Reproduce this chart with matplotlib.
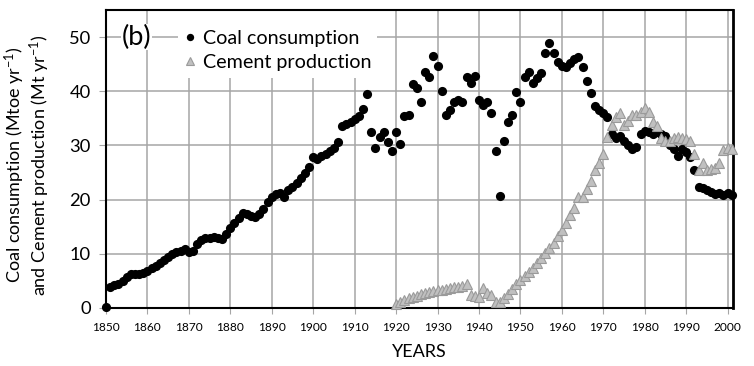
import matplotlib
matplotlib.use("Agg")
import matplotlib.pyplot as plt
from matplotlib.patches import Rectangle

plt.rcParams['font.family'] = ['Lato', 'DejaVu Sans']
plt.rcParams['mathtext.fontset'] = 'custom'
plt.rcParams['mathtext.rm'] = 'Lato'
plt.rcParams['mathtext.it'] = 'Lato'

coal_years = list(range(1850, 2002))
coal = [
    0.2, 3.9, 4.2, 4.5, 5.0, 5.8, 6.2, 6.3, 6.3, 6.4,          # 1850-1859
    6.8, 7.3, 7.8, 8.3, 8.8, 9.4, 9.9, 10.3, 10.5, 10.9,       # 1860-1869
    10.4, 10.5, 11.8, 12.5, 12.9, 13.0, 13.1, 12.9, 12.8, 13.6,  # 1870-1879
    14.8, 15.7, 16.6, 17.6, 17.4, 17.0, 16.8, 17.3, 18.3, 19.5,  # 1880-1889
    20.5, 21.0, 21.2, 20.5, 21.8, 22.3, 23.0, 24.0, 25.0, 26.0,  # 1890-1899
    27.8, 27.5, 28.0, 28.5, 29.0, 29.5, 30.6, 33.5, 34.0, 34.3,  # 1900-1909
    34.8, 35.5, 36.7, 39.5, 32.4, 29.6, 31.5, 32.4, 30.6, 28.9,  # 1910-1919
    32.4, 30.2, 35.4, 35.7, 41.3, 40.6, 38.1, 43.5, 42.6, 46.5,  # 1920-1929
    44.6, 40.0, 35.7, 36.5, 38.0, 38.3, 38.0, 42.6, 41.5, 42.8,  # 1930-1939
    38.3, 37.4, 38.0, 35.9, 28.9, 20.7, 30.9, 34.3, 35.6, 39.8,  # 1940-1949
    38.1, 42.6, 43.5, 41.5, 42.4, 43.3, 47.0, 48.9, 47.0, 45.4,  # 1950-1959
    44.6, 44.4, 45.2, 45.9, 46.3, 44.4, 41.9, 39.6, 37.2, 36.5,  # 1960-1969
    35.9, 35.2, 32.2, 31.3, 31.8, 30.9, 30.0, 29.4, 29.8, 32.2,  # 1970-1979
    32.6, 32.4, 32.2, 32.4, 32.2, 31.8, 30.0, 29.4, 28.1, 29.4,  # 1980-1989
    28.7, 27.8, 25.5, 22.4, 22.2, 21.8, 21.5, 21.0, 21.3, 20.8,  # 1990-1999
    21.2, 20.8,                                                  # 2000-2001
]

cement_years = list(range(1920, 2002))
cement = [
    0.7, 1.1, 1.5, 1.8, 2.1, 2.3, 2.5, 2.7, 2.9, 3.1,            # 1920-1929
    3.3, 3.3, 3.5, 3.7, 3.8, 3.9, 4.0, 4.4, 2.4, 2.2,            # 1930-1939
    2.0, 3.7, 2.8, 2.4, 1.1, 1.1, 1.9, 2.6, 3.5, 4.4,            # 1940-1949
    5.2, 5.9, 6.6, 7.4, 8.3, 9.3, 10.2, 11.0, 12.0, 13.2,        # 1950-1959
    14.4, 15.7, 17.2, 18.5, 20.4, 20.4, 21.9, 23.5, 25.4, 26.7,  # 1960-1969
    28.5, 31.5, 33.7, 35.2, 35.9, 33.7, 34.6, 35.6, 35.6, 36.1,  # 1970-1979
    37.0, 36.1, 34.3, 33.6, 31.3, 30.9, 30.9, 31.3, 31.5, 31.3,  # 1980-1989
    31.1, 30.9, 28.5, 25.4, 26.7, 25.4, 25.7, 25.9, 26.7, 29.1,  # 1990-1999
    29.6, 29.4,                                                  # 2000-2001
]

x_ticks = list(range(1850, 2001, 10))
y_ticks = [0, 10, 20, 30, 40, 50]

W, H = 754, 366
fig = plt.figure(figsize=(W / 100, H / 100), dpi=100)
L, R, T, B = 106, 733, 10, 308
AW, AH = R - L, B - T
ax = fig.add_axes([L / W, 1 - B / H, AW / W, AH / H])

ax.set_xlim(1850, 2001.3)
ax.set_ylim(0, 55)
ax.set_xticks(x_ticks)
ax.set_yticks(y_ticks)
ax.grid(True, color='#a6a6a6', linewidth=1.1, zorder=0)
ax.set_axisbelow(True)
for s in ax.spines.values():
    s.set_color('black')
    s.set_linewidth(1.5)
ax.spines['right'].set_linewidth(2.0)

ax.tick_params(axis='x', labelsize=8.6, length=4, color='#a6a6a6', pad=6)
ax.tick_params(axis='y', labelsize=13.2, length=5, color='#a6a6a6', pad=6)

# white area behind legend
ax.add_patch(Rectangle(((178 - L) / AW, 1 - (78 - T) / AH),
                       (377 - 178) / AW, (78 - T) / AH,
                       transform=ax.transAxes, facecolor='white',
                       edgecolor='none', zorder=1))

ax.plot(coal_years, coal, 'o', color='black', markersize=6.6,
        markeredgewidth=0, label='Coal consumption', zorder=3, clip_on=False)
ax.plot(cement_years, cement, '^', markerfacecolor='#c0c0c0',
        markeredgecolor='#9a9a9a', markeredgewidth=0.8, markersize=7.5,
        label='Cement production', zorder=4, clip_on=False)

leg = ax.legend(loc='center left', bbox_to_anchor=((184.4 - L) / AW, (B - 50.5) / AH),
                frameon=False, fontsize=14.2, handlelength=0.6,
                handletextpad=0.32, borderaxespad=0.0, borderpad=0.0,
                labelspacing=0.38, markerscale=0.8)

ax.text((122 - L) / AW, (B - 37) / AH, '(b)', fontsize=19.5,
        va='center', ha='left', transform=ax.transAxes, zorder=5,
        bbox=dict(facecolor='white', edgecolor='none', pad=0.5))

ax.set_xlabel('YEARS', fontsize=13)
ax.xaxis.set_label_coords(0.5, -(352 - B) / AH, transform=ax.transAxes)
ax.xaxis.label.set_va('center')

ax.set_ylabel('Coal consumption (Mtoe yr$^{-1}$)\nand Cement production (Mt yr$^{-1}$)',
              fontsize=13, linespacing=1.05)
ax.yaxis.set_label_coords((27 - L) / AW, (B - 165) / AH)
ax.yaxis.label.set_va('center')

fig.savefig('out.png', dpi=100)
